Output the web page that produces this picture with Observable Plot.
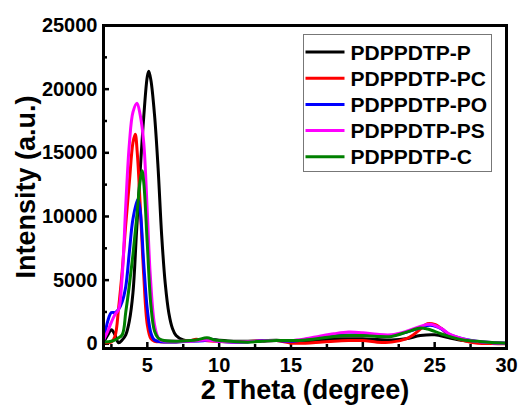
<!DOCTYPE html>
<html>
<head>
<meta charset="utf-8">
<script src="https://cdn.jsdelivr.net/npm/d3@7"></script>
<script src="https://cdn.jsdelivr.net/npm/@observablehq/plot@0.6"></script>
<style>
  html, body { margin: 0; padding: 0; background: #fff; }
  #chart { width: 519px; height: 405px; }
</style>
</head>
<body>
<div id="chart"></div>
<script>
const seriesNames = ["PDPPDTP-P", "PDPPDTP-PC", "PDPPDTP-PO", "PDPPDTP-PS", "PDPPDTP-C"];
const seriesColors = ["#000000", "#ff0000", "#0000ff", "#ff00ff", "#008000"];

const xP  = [2.0, 2.25, 2.5, 2.75, 3.0, 3.25, 3.5, 3.75, 4.0, 4.25, 4.5, 4.75, 5.0, 5.1, 5.25, 5.5, 5.75, 6.0, 6.25, 6.5, 6.75, 7.0, 7.5, 8.0, 9.0, 9.4, 10, 11, 12, 13, 14, 15, 16, 17, 18, 19, 20, 21, 22, 23, 24, 25, 26, 27, 28, 29, 30];
const yP  = [200, 700, 1100, 700, 80, 300, 700, 1800, 4000, 8800, 13500, 17800, 21000, 21400, 20700, 18000, 13800, 8500, 4700, 2400, 1200, 650, 300, 250, 280, 350, 280, 200, 200, 230, 280, 200, 150, 250, 390, 400, 390, 340, 300, 390, 650, 710, 470, 260, 130, 80, 50];

const xPC = [2.0, 2.5, 2.75, 3.0, 3.25, 3.5, 3.75, 4.0, 4.16, 4.3, 4.5, 4.75, 5.0, 5.25, 5.5, 6.0, 7.0, 8.0, 8.4, 9.0, 10, 11, 12, 13, 14, 15, 16, 17, 18, 19, 20, 21, 22, 23, 23.5, 24, 24.5, 25, 25.5, 26, 27, 28, 29, 30];
const yPC = [100, 150, 600, 2800, 5700, 9400, 12700, 15800, 16450, 15000, 11000, 5400, 1500, 400, 200, 150, 150, 250, 350, 250, 180, 150, 180, 220, 250, 50, 50, 120, 200, 250, 260, 130, 130, 390, 700, 1150, 1580, 1530, 1180, 650, 260, 50, 20, 0];

const xPO = [2.0, 2.25, 2.5, 2.75, 3.0, 3.25, 3.5, 3.75, 4.0, 4.33, 4.5, 4.75, 5.0, 5.25, 5.5, 6.0, 7.0, 8.0, 9.0, 9.4, 10, 11, 12, 13, 14, 15, 16, 17, 18, 19, 20, 21, 22, 23, 24, 24.7, 25.5, 26, 27, 28, 29, 30];
const yPO = [400, 1800, 2450, 2450, 2700, 3300, 4500, 7200, 9800, 11340, 10500, 6300, 2700, 850, 300, 150, 150, 200, 250, 350, 200, 130, 150, 230, 250, 200, 330, 480, 650, 700, 710, 680, 650, 900, 1260, 1450, 1150, 740, 380, 180, 90, 50];

const xPS = [2.0, 2.25, 2.5, 2.75, 3.0, 3.25, 3.5, 3.75, 4.0, 4.28, 4.5, 4.75, 5.0, 5.2, 5.5, 5.75, 6.0, 6.5, 7.0, 8.0, 9.0, 10, 11, 12, 13, 14, 15, 16, 17, 18, 19, 20, 21, 22, 23, 24, 24.7, 25.5, 26, 27, 28, 29, 30];
const yPS = [400, 1000, 1700, 2300, 2700, 5300, 10900, 15700, 18200, 18900, 18000, 15800, 10300, 5500, 1500, 500, 250, 200, 200, 200, 300, 200, 150, 170, 220, 260, 250, 390, 600, 790, 920, 870, 740, 710, 970, 1370, 1530, 1180, 790, 390, 180, 90, 50];

const xC  = [2.0, 2.5, 2.9, 3.25, 3.5, 3.75, 4.0, 4.25, 4.5, 4.63, 4.75, 5.0, 5.25, 5.5, 5.75, 6.0, 7.0, 8.0, 8.5, 9.15, 9.7, 10, 11, 12, 13, 14, 15, 16, 17, 18, 19, 20, 21, 22, 23, 24, 24.5, 25, 26, 27, 28, 29, 30];
const yC  = [150, 200, 400, 700, 2500, 4600, 7000, 9800, 12800, 13590, 12700, 7800, 3000, 1000, 450, 300, 200, 250, 320, 470, 300, 260, 180, 130, 200, 260, 250, 300, 430, 580, 650, 650, 580, 580, 900, 1240, 1160, 970, 580, 300, 200, 100, 50];

const xTicks = [5, 10, 15, 20, 25, 30];
const xMinor = [2.5, 7.5, 12.5, 17.5, 22.5, 27.5];
const yTicks = [0, 5000, 10000, 15000, 20000, 25000];
const yMinor = [2500, 7500, 12500, 17500, 22500];

const xs = [xP, xPC, xPO, xPS, xC];
const ys = [yP, yPC, yPO, yPS, yC];
const rows = [];
seriesNames.forEach((name, i) => {
  xs[i].forEach((x, j) => rows.push({series: name, x, y: ys[i][j]}));
});

const font = "'Liberation Sans', Arial, sans-serif";
const W = 519, H = 405, mL = 103, mR = 13, mT = 25, mB = 57;
const frameW = W - mL - mR, frameH = H - mT - mB;

const plot = Plot.plot({
  width: W,
  height: H,
  marginLeft: mL,
  marginRight: mR,
  marginTop: mT,
  marginBottom: mB,
  style: {fontFamily: font, fontWeight: "bold", color: "#000", background: "#fff"},
  x: {domain: [1.95, 30]},
  y: {domain: [-370, 25000]},
  color: {domain: seriesNames, range: seriesColors},
  marks: [
    Plot.axisX(xTicks, {tickSize: 0, tickPadding: 9, fontSize: 20, tickFormat: d3.format("d"), label: "2 Theta (degree)", labelAnchor: "center", labelOffset: 50, labelArrow: false}),
    Plot.axisY(yTicks, {tickSize: 0, tickPadding: 6, fontSize: 20, tickFormat: d3.format("d"), label: "Intensity (a.u.)", labelAnchor: "center", labelOffset: 88, labelArrow: false}),
    Plot.tickX(xTicks, {x: d => d, stroke: "#000", strokeWidth: 2.5, insetTop: frameH - 6}),
    Plot.tickX(xMinor, {x: d => d, stroke: "#000", strokeWidth: 2.5, insetTop: frameH - 4}),
    Plot.tickY(yTicks, {y: d => d, stroke: "#000", strokeWidth: 2.5, insetRight: frameW - 6}),
    Plot.tickY(yMinor, {y: d => d, stroke: "#000", strokeWidth: 2.5, insetRight: frameW - 4}),
    Plot.line(rows, {x: "x", y: "y", z: "series", stroke: "series", strokeWidth: 3, curve: "catmull-rom"}),
    Plot.frame({stroke: "#000", strokeWidth: 3})
  ]
});

const svg = d3.select(plot);
svg.selectAll("g[aria-label='x-axis label'] text, g[aria-label='y-axis label'] text")
  .style("font-size", "27px");

// legend
const lg = svg.append("g").attr("class", "legend").attr("text-anchor", "start");
const lx = 303.5, ly = 34.5, lw = 188, lh = 137, rowH = 26.2, row0 = 52;
lg.append("rect").attr("x", lx).attr("y", ly).attr("width", lw).attr("height", lh)
  .attr("fill", "#fff").attr("stroke", "#777").attr("stroke-width", 1);
seriesNames.forEach((name, i) => {
  const yy = row0 + i * rowH;
  lg.append("line").attr("x1", lx + 2).attr("x2", lx + 41).attr("y1", yy).attr("y2", yy)
    .attr("stroke", seriesColors[i]).attr("stroke-width", 3);
  lg.append("text").attr("x", lx + 47).attr("y", yy).attr("dy", "0.36em")
    .attr("text-anchor", "start")
    .attr("font-size", 21).attr("font-weight", "bold").attr("font-family", font)
    .attr("fill", "#000").text(name);
});

document.getElementById("chart").appendChild(plot);
</script>
</body>
</html>
